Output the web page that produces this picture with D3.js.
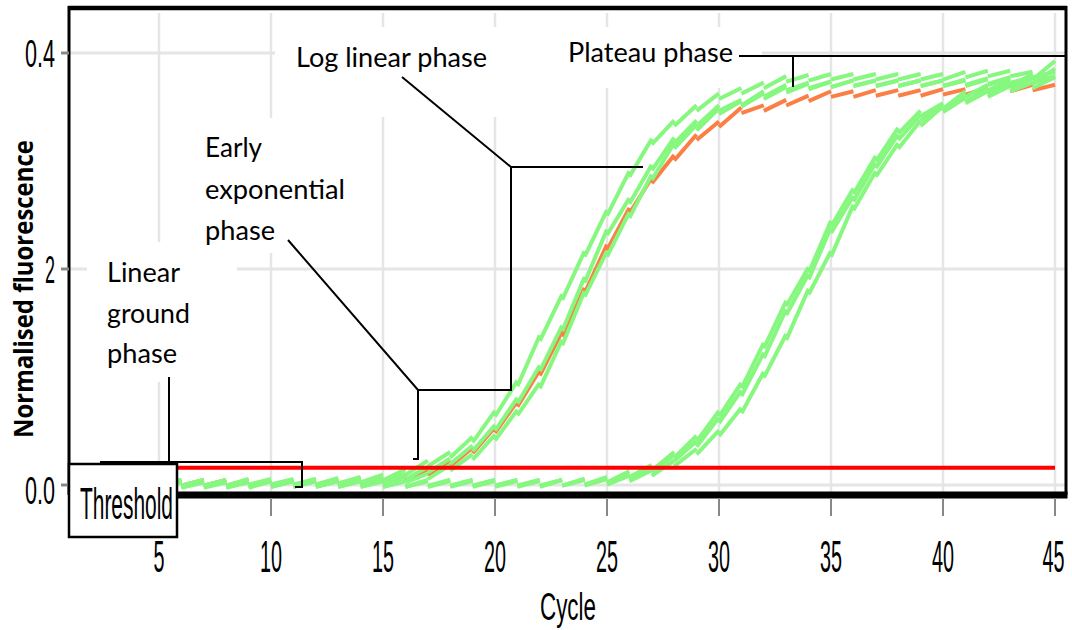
<!DOCTYPE html>
<html><head><meta charset="utf-8">
<script src="https://cdn.jsdelivr.net/npm/d3@7"></script>
<style>body{margin:0;background:#fff}svg{display:block}</style>
</head><body>
<svg id="c" width="1072" height="630"></svg>
<script>
// ---------- data ----------
const cycles = d3.range(1, 46);
const earlyGreen1 = [0.002,0.002,0.002,0.002,0.002,0.002,0.002,0.002,0.003,0.003,
  0.003,0.003,0.004,0.005,0.007,0.012,0.020,0.028,0.042,0.066,
  0.094,0.136,0.174,0.214,0.252,0.288,0.318,0.335,0.349,0.360,
  0.365,0.370,0.376,0.377,0.378,0.378,0.378,0.378,0.378,0.378,
  0.380,0.381,0.381,0.380,0.380];
const earlyGreen2 = [0.002,0.002,0.002,0.002,0.002,0.002,0.002,0.002,0.002,0.002,
  0.002,0.003,0.003,0.004,0.005,0.008,0.014,0.022,0.034,0.053,
  0.078,0.108,0.145,0.190,0.234,0.263,0.294,0.319,0.335,0.349,
  0.354,0.362,0.368,0.370,0.371,0.372,0.372,0.372,0.372,0.372,
  0.373,0.374,0.375,0.375,0.376];
const earlyGreen3 = [0.001,0.001,0.001,0.001,0.001,0.001,0.001,0.001,0.001,0.001,
  0.001,0.002,0.002,0.003,0.004,0.005,0.008,0.016,0.026,0.044,
  0.067,0.092,0.132,0.177,0.214,0.250,0.285,0.314,0.331,0.346,
  0.353,0.360,0.366,0.369,0.371,0.372,0.372,0.372,0.372,0.372,
  0.372,0.373,0.374,0.375,0.376];
const earlyOrange = [0.002,0.002,0.002,0.002,0.002,0.002,0.002,0.002,0.002,0.002,
  0.002,0.002,0.003,0.004,0.005,0.007,0.012,0.020,0.032,0.051,
  0.075,0.104,0.140,0.180,0.220,0.254,0.282,0.303,0.322,0.334,
  0.347,0.349,0.354,0.358,0.362,0.362,0.363,0.363,0.363,0.364,
  0.364,0.365,0.367,0.368,0.368];
const lateGreen1 = [0.001,0.001,0.001,0.001,0.001,0.001,0.001,0.001,0.001,0.001,
  0.001,0.001,0.001,0.001,0.001,0.001,0.002,0.002,0.002,0.002,
  0.002,0.002,0.002,0.003,0.005,0.010,0.016,0.028,0.043,0.066,
  0.092,0.129,0.168,0.199,0.242,0.272,0.302,0.328,0.344,0.351,
  0.362,0.368,0.372,0.378,0.390];
const lateGreen2 = [0.001,0.001,0.001,0.001,0.001,0.001,0.001,0.001,0.001,0.001,
  0.001,0.001,0.001,0.001,0.001,0.001,0.001,0.002,0.002,0.002,
  0.002,0.002,0.002,0.003,0.004,0.008,0.014,0.025,0.038,0.060,
  0.085,0.120,0.160,0.193,0.236,0.265,0.296,0.322,0.340,0.349,
  0.358,0.364,0.370,0.374,0.383];
const lateGreen3 = [0.000,0.000,0.000,0.000,0.000,0.000,0.000,0.000,0.000,0.001,
  0.001,0.001,0.001,0.001,0.001,0.001,0.001,0.001,0.001,0.001,
  0.001,0.001,0.002,0.002,0.003,0.006,0.011,0.020,0.031,0.048,
  0.069,0.102,0.137,0.179,0.214,0.257,0.288,0.314,0.335,0.348,
  0.356,0.362,0.367,0.370,0.375];
const thresholdValue = 0.016;
const xTickValues = [5,10,15,20,25,30,35,40,45];
const yTickValues = [0, 0.2, 0.4];
const yTickLabels = ["0.0", "2", "0.4"];

// ---------- layout ----------
const plot = {left: 69, right: 1066, top: 8, bottom: 495};
const svg = d3.select("#c");
const x = d3.scaleLinear().domain([1, 45]).range([69.4, 1055]);
const y = d3.scaleLinear().domain([0, 0.4]).range([485, 53]);
const GREEN = "#86f77f", ORANGE = "#fb7f44";

// gridlines
const grid = svg.append("g");
grid.selectAll("line.v").data(xTickValues).join("line")
  .attr("x1", d => x(d)).attr("x2", d => x(d))
  .attr("y1", 13).attr("y2", plot.bottom)
  .attr("stroke", "#e5e5e5").attr("stroke-width", 2.5);
grid.selectAll("line.h").data(yTickValues).join("line")
  .attr("x1", plot.left).attr("x2", plot.right)
  .attr("y1", d => y(d)).attr("y2", d => y(d))
  .attr("stroke", "#e5e5e5").attr("stroke-width", 3);

// white label backgrounds that mask the grid
const masks = [[275,27,290,90],[565,27,197,61],[190,118,175,135],[87,242,150,140]];
svg.append("g").selectAll("rect").data(masks).join("rect")
  .attr("x", d => d[0]).attr("y", d => d[1]).attr("width", d => d[2]).attr("height", d => d[3])
  .attr("fill", "#fff");

// curves drawn as jagged per-cycle segments
const JAG = 2.8;
function drawCurve(vals, color) {
  const segs = d3.range(vals.length - 1).map(i => [cycles[i], vals[i], cycles[i+1], vals[i+1]]);
  svg.append("g").selectAll("line").data(segs).join("line")
    .attr("x1", d => x(d[0])).attr("y1", d => y(d[1]) + JAG)
    .attr("x2", d => x(d[2])).attr("y2", d => y(d[3]) - JAG)
    .attr("stroke", color).attr("stroke-width", 4);
}
drawCurve(earlyOrange, ORANGE);
[lateGreen3, lateGreen2, lateGreen1, earlyGreen3, earlyGreen2, earlyGreen1].forEach(s => drawCurve(s, GREEN));

// threshold line
svg.append("line")
  .attr("x1", x(1)).attr("x2", x(45))
  .attr("y1", y(thresholdValue)).attr("y2", y(thresholdValue))
  .attr("stroke", "#ff0000").attr("stroke-width", 4);

// frame
const frame = svg.append("g").attr("stroke", "#000");
frame.append("line").attr("x1", plot.left - 1).attr("x2", plot.right + 1).attr("y1", plot.top).attr("y2", plot.top).attr("stroke-width", 4.5);
frame.append("line").attr("x1", plot.left).attr("x2", plot.left).attr("y1", plot.top - 2).attr("y2", plot.bottom).attr("stroke-width", 3);
frame.append("line").attr("x1", plot.right).attr("x2", plot.right).attr("y1", plot.top - 2).attr("y2", plot.bottom).attr("stroke-width", 3);
frame.append("line").attr("x1", plot.left).attr("x2", plot.right + 1.5).attr("y1", plot.bottom).attr("y2", plot.bottom).attr("stroke-width", 7);

// x axis ticks + labels
const xAxis = svg.append("g");
xAxis.selectAll("line").data(xTickValues).join("line")
  .attr("x1", d => x(d)).attr("x2", d => x(d)).attr("y1", plot.bottom + 3).attr("y2", 516)
  .attr("stroke", "#888").attr("stroke-width", 2);
xAxis.selectAll("text").data(xTickValues).join("text")
  .attr("x", d => d === 45 ? x(d) - 1.5 : x(d)).attr("y", 572)
  .attr("text-anchor", "middle")
  .attr("font-family", "'Liberation Sans', Arial, sans-serif").attr("font-size", 45)
  .attr("textLength", d => d < 10 ? 11 : 22).attr("lengthAdjust", "spacingAndGlyphs")
  .text(d => d);

// y axis ticks + labels
const yAxis = svg.append("g");
yAxis.selectAll("line").data(yTickValues).join("line")
  .attr("x1", 61).attr("x2", plot.left).attr("y1", d => y(d)).attr("y2", d => y(d))
  .attr("stroke", "#888").attr("stroke-width", 3);
yAxis.selectAll("text").data(yTickValues).join("text")
  .attr("x", 55).attr("y", (d, i) => y(d) + 14 + (i === 0 ? 5 : 0))
  .attr("text-anchor", "end")
  .attr("font-family", "'Liberation Sans', Arial, sans-serif").attr("font-size", 39)
  .attr("textLength", (d, i) => yTickLabels[i].length > 1 ? 30 : 10).attr("lengthAdjust", "spacingAndGlyphs")
  .text((d, i) => yTickLabels[i]);

// axis titles
svg.append("text").attr("x", 568).attr("y", 620).attr("text-anchor", "middle")
  .attr("font-family", "'Liberation Sans', Arial, sans-serif").attr("font-size", 39)
  .attr("textLength", 56).attr("lengthAdjust", "spacingAndGlyphs").text("Cycle");
svg.append("text").attr("transform", "translate(33,289) rotate(-90)").attr("text-anchor", "middle")
  .attr("font-family", "'Open Sans', sans-serif").attr("font-weight", "bold").attr("font-size", 27)
  .attr("textLength", 298).attr("lengthAdjust", "spacingAndGlyphs").text("Normalised fluorescence");

// leader lines
const leaders = [
  "M739,56H1067M793,56V87",
  "M402,77L511,167H643M511,167V390",
  "M288,240L418,390H512M418,390V459H413",
  "M169,377V462M100,462H302V487H295"
];
svg.append("g").selectAll("path").data(leaders).join("path")
  .attr("d", d => d).attr("fill", "none").attr("stroke", "#000").attr("stroke-width", 2);

// annotation labels
const annotations = [
  {t: "Log linear phase", x: 296, y: 67, w: 191},
  {t: "Plateau phase", x: 568, y: 62, w: 165},
  {t: "Early", x: 205, y: 157, w: 57},
  {t: "exponential", x: 205, y: 199, w: 140},
  {t: "phase", x: 205, y: 240, w: 70},
  {t: "Linear", x: 107, y: 282, w: 73},
  {t: "ground", x: 107, y: 323, w: 83},
  {t: "phase", x: 107, y: 363, w: 70}
];
svg.append("g").selectAll("text").data(annotations).join("text")
  .attr("x", d => d.x).attr("y", d => d.y)
  .attr("font-family", "Lato, 'Open Sans', sans-serif").attr("font-size", 26)
  .attr("textLength", d => d.w).attr("lengthAdjust", "spacingAndGlyphs")
  .attr("fill", "#000").text(d => d.t);

// threshold box
svg.append("rect").attr("x", 69).attr("y", 464).attr("width", 108).attr("height", 73)
  .attr("fill", "#fff").attr("stroke", "#000").attr("stroke-width", 2.5);
svg.append("text").attr("x", 80).attr("y", 519)
  .attr("font-family", "'Liberation Sans', Arial, sans-serif").attr("font-size", 44)
  .attr("textLength", 93).attr("lengthAdjust", "spacingAndGlyphs").text("Threshold");
</script>
</body></html>
